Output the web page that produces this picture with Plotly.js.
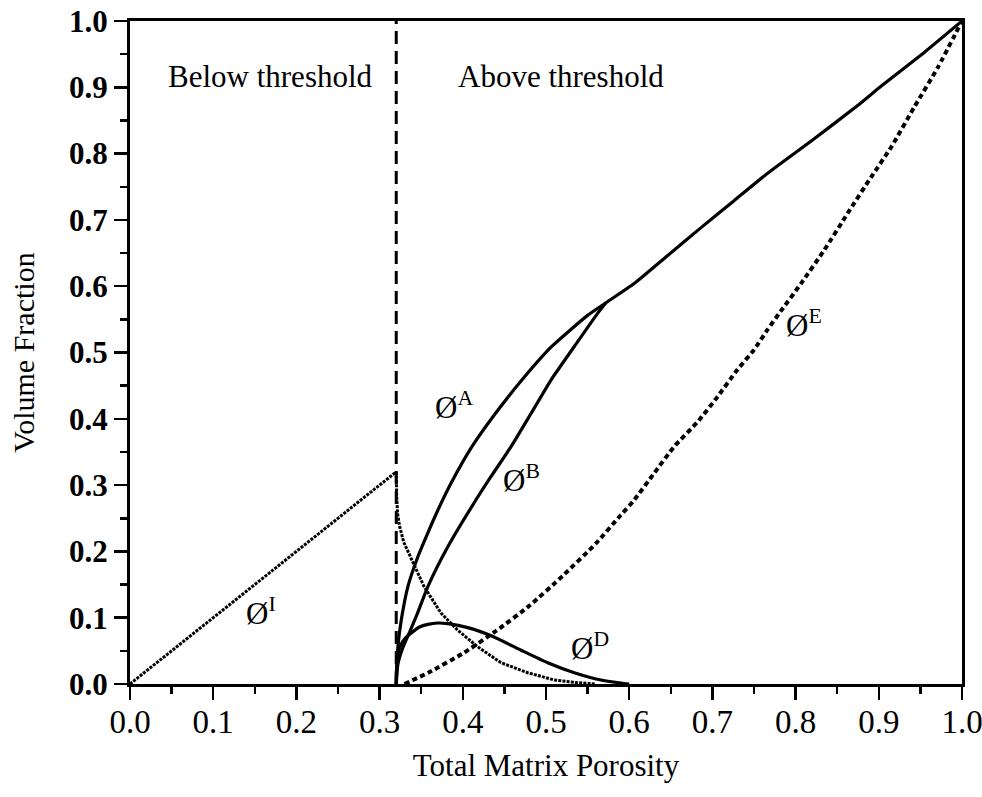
<!DOCTYPE html>
<html>
<head>
<meta charset="utf-8">
<script src="https://cdn.plot.ly/plotly-3.0.1.min.js"></script>
<style>
  html, body { margin: 0; padding: 0; background: #fff; }
  #chart { width: 982px; height: 797px; }
</style>
</head>
<body>
<div id="chart"></div>
<script>
// Percolation threshold (total matrix porosity)
const thresholdX = [0.32, 0.32];
const thresholdY = [0, 1];

// Isolated porosity: rises with total porosity below threshold, then decays above it
const isoX = [0, 0.32, 0.3205, 0.3215, 0.324, 0.329, 0.3377, 0.3534, 0.3738, 0.394, 0.418, 0.446, 0.478, 0.51, 0.538, 0.56];
const isoY = [0, 0.32, 0.285, 0.258, 0.238, 0.214, 0.19, 0.147, 0.107, 0.081, 0.056, 0.032, 0.017, 0.006, 0.002, 0];

// Phi A: rises from threshold, merges with total porosity line
const aX = [0.32, 0.3205, 0.322, 0.326, 0.334, 0.346, 0.358, 0.370, 0.386, 0.410, 0.438, 0.470, 0.506, 0.550, 0.572,
            0.606, 0.646, 0.686, 0.726, 0.766, 0.822, 0.875, 0.903, 0.955, 1.0];
const aY = [0, 0.02, 0.056, 0.096, 0.147, 0.192, 0.228, 0.262, 0.303, 0.356, 0.406, 0.457, 0.508, 0.556, 0.575,
            0.604, 0.646, 0.688, 0.729, 0.77, 0.822, 0.873, 0.902, 0.953, 1.0];

// Phi B
const bX = [0.32, 0.322, 0.328, 0.336, 0.345, 0.358, 0.382, 0.4135, 0.434, 0.458, 0.482, 0.506, 0.534, 0.562, 0.572];
const bY = [0, 0.03, 0.055, 0.078, 0.105, 0.147, 0.207, 0.273, 0.313, 0.358, 0.408, 0.4585, 0.509, 0.559, 0.575];

// Phi D
const dX = [0.32, 0.3205, 0.322, 0.325, 0.330, 0.338, 0.348, 0.358, 0.370, 0.382, 0.406, 0.4375, 0.470, 0.502, 0.534, 0.566, 0.590, 0.60];
const dY = [0, 0.025, 0.045, 0.058, 0.068, 0.077, 0.086, 0.090, 0.092, 0.091, 0.085, 0.071, 0.051, 0.032, 0.017, 0.006, 0.0015, 0];

// Phi E
const eX = [0.33, 0.36, 0.40, 0.44, 0.48, 0.52, 0.56, 0.59, 0.606, 0.63, 0.654, 0.682, 0.706, 0.73, 0.75, 0.766, 0.782,
            0.8065, 0.8345, 0.8626, 0.891, 0.915, 0.943, 0.971, 1.0];
const eY = [0, 0.018, 0.046, 0.080, 0.118, 0.163, 0.212, 0.255, 0.2775, 0.318, 0.358, 0.395, 0.433, 0.474, 0.504, 0.534, 0.562,
            0.604, 0.6546, 0.710, 0.765, 0.810, 0.871, 0.930, 1.0];

// Curve labels
const labelText = ['Ø<sup>I</sup>', 'Ø<sup>A</sup>', 'Ø<sup>B</sup>', 'Ø<sup>D</sup>', 'Ø<sup>E</sup>'];
const labelX = [0.137, 0.364, 0.446, 0.528, 0.786];
const labelY = [0.11, 0.42, 0.31, 0.056, 0.543];

// Region labels
const regionText = ['Below threshold', 'Above threshold'];
const regionX = [0.169, 0.518];
const regionY = [0.916, 0.916];

const tickVals = [0, 0.1, 0.2, 0.3, 0.4, 0.5, 0.6, 0.7, 0.8, 0.9, 1.0];
const tickText = ['0.0', '0.1', '0.2', '0.3', '0.4', '0.5', '0.6', '0.7', '0.8', '0.9', '1.0'];
const minorVals = [0.05, 0.15, 0.25, 0.35, 0.45, 0.55, 0.65, 0.75, 0.85, 0.95];

const serif = 'Liberation Serif, Times New Roman, serif';
const ink = '#000';

const traces = [
  { x: thresholdX, y: thresholdY, mode: 'lines', line: { color: ink, width: 3, dash: '13px,7px' }, hoverinfo: 'skip' },
  { x: isoX, y: isoY, mode: 'lines', line: { color: ink, width: 3, dash: '3px,1.2px' } },
  { x: aX, y: aY, mode: 'lines', line: { color: ink, width: 3.2, shape: 'spline', smoothing: 0.5 } },
  { x: bX, y: bY, mode: 'lines', line: { color: ink, width: 3.2, shape: 'spline', smoothing: 0.5 } },
  { x: dX, y: dY, mode: 'lines', line: { color: ink, width: 3.2, shape: 'spline', smoothing: 0.5 } },
  { x: eX, y: eY, mode: 'lines', line: { color: ink, width: 4, dash: '5px,3.5px', shape: 'spline', smoothing: 0.5 } }
];

const annotations = [];
labelText.forEach((t, i) => annotations.push({
  x: labelX[i], y: labelY[i], xref: 'x', yref: 'y', text: t, showarrow: false,
  xanchor: 'left', yanchor: 'middle', font: { family: serif, size: 31, color: ink }
}));
regionText.forEach((t, i) => annotations.push({
  x: regionX[i], y: regionY[i], xref: 'x', yref: 'y', text: t, showarrow: false,
  xanchor: 'center', yanchor: 'middle', font: { family: serif, size: 31, color: ink }
}));

const axisCommon = {
  range: [0, 1], showgrid: false, zeroline: false,
  showline: true, linecolor: ink, linewidth: 3, mirror: true,
  ticks: 'outside', ticklen: 13, tickwidth: 2.5, tickcolor: ink,
  tickvals: tickVals, ticktext: tickText, ticklabeloverflow: 'allow',
  minor: { tickvals: minorVals, ticks: 'outside', ticklen: 7, tickwidth: 2.5, tickcolor: ink, showgrid: false }
};

const layout = {
  width: 982, height: 797,
  margin: { l: 130, r: 20, t: 21, b: 113 },
  paper_bgcolor: '#fff', plot_bgcolor: '#fff',
  showlegend: false,
  xaxis: Object.assign({}, axisCommon, {
    tickfont: { family: serif, size: 33, color: ink },
    ticklabelstandoff: -7,
    title: { text: 'Total Matrix Porosity', font: { family: serif, size: 31, color: ink }, standoff: 16 }
  }),
  yaxis: Object.assign({}, axisCommon, {
    tickfont: { family: serif, size: 31, color: ink, weight: 'bold' },
    title: { text: 'Volume Fraction', font: { family: serif, size: 30, color: ink }, standoff: 26 }
  }),
  annotations: annotations
};

Plotly.newPlot('chart', traces, layout, { staticPlot: true, displayModeBar: false });
</script>
</body>
</html>
